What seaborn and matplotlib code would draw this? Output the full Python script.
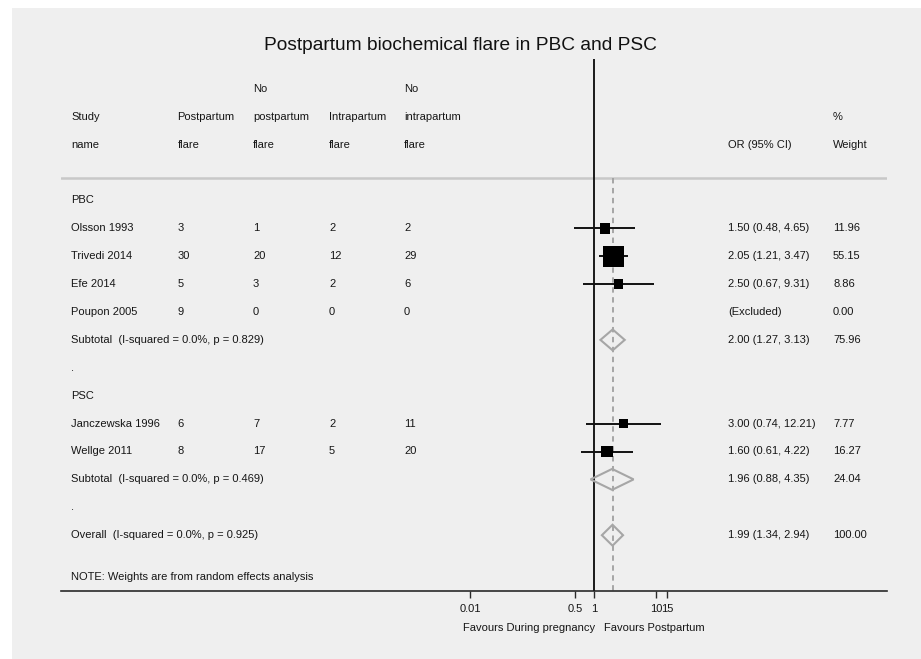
import numpy as np
import pandas as pd
import matplotlib
matplotlib.use("Agg")
import matplotlib.pyplot as plt
import matplotlib.transforms as mtransforms
from matplotlib.patches import Rectangle, Polygon
from matplotlib.ticker import FixedLocator, NullLocator, FixedFormatter
import seaborn as sns

# ---------------- data ----------------
studies = ["Olsson 1993", "Trivedi 2014", "Efe 2014", "Poupon 2005",
           "Janczewska 1996", "Wellge 2011"]
groups = ["PBC", "PBC", "PBC", "PBC", "PSC", "PSC"]
postpartum_flare = [3, 30, 5, 9, 6, 8]
no_postpartum_flare = [1, 20, 3, 0, 7, 17]
intrapartum_flare = [2, 12, 2, 0, 2, 5]
no_intrapartum_flare = [2, 29, 6, 0, 11, 20]
odds_ratio = [1.50, 2.05, 2.50, np.nan, 3.00, 1.60]
ci_low = [0.48, 1.21, 0.67, np.nan, 0.74, 0.61]
ci_high = [4.65, 3.47, 9.31, np.nan, 12.21, 4.22]
or_text = ["1.50 (0.48, 4.65)", "2.05 (1.21, 3.47)", "2.50 (0.67, 9.31)",
           "(Excluded)", "3.00 (0.74, 12.21)", "1.60 (0.61, 4.22)"]
weights = [11.96, 55.15, 8.86, 0.00, 7.77, 16.27]

pooled_labels = ["Subtotal  (I-squared = 0.0%, p = 0.829)",
                 "Subtotal  (I-squared = 0.0%, p = 0.469)",
                 "Overall  (I-squared = 0.0%, p = 0.925)"]
pooled_or = [2.00, 1.96, 1.99]
pooled_low = [1.27, 0.88, 1.34]
pooled_high = [3.13, 4.35, 2.94]
pooled_text = ["2.00 (1.27, 3.13)", "1.96 (0.88, 4.35)", "1.99 (1.34, 2.94)"]
pooled_weight = ["75.96", "24.04", "100.00"]

tick_values = [0.01, 0.5, 1, 10, 15]
tick_labels = ["0.01", "0.5", "1", "10", "15"]

title = "Postpartum biochemical flare in PBC and PSC"

# ---------------- layout rows ----------------
study_rows = [1, 2, 3, 4, 8, 9]
pooled_rows = [5, 10, 12]
group_rows = {"PBC": 0, "PSC": 7}
dot_rows = [6, 11]

W, H = 921, 659
sns.set_theme(style="white")
plt.rcParams["font.family"] = ["Liberation Sans", "DejaVu Sans"]
TXT = "#161616"
FS = 8.0

fig = plt.figure(figsize=(W / 100, H / 100), dpi=100)
fig.patch.set_facecolor("white")
fig.patches.append(Rectangle((12 / W, 0), 1 - 12 / W, 1 - 8 / H,
                             transform=fig.transFigure, facecolor="#efefef",
                             edgecolor="none", zorder=-10))

# axes: pixel 61..887 horizontally, 59..591 vertically
x_left, x_right, y_top, y_bot = 61, 887, 59, 591
ax = fig.add_axes([x_left / W, 1 - y_bot / H, (x_right - x_left) / W,
                   (y_bot - y_top) / H])
ax.set_facecolor("none")
row0, rowstep = 200.4, 27.9
px_per_dec, x_one = 62.0, 594.0
ax.set_xscale("log")
ax.set_xlim(10 ** ((x_left - x_one) / px_per_dec), 10 ** ((x_right - x_one) / px_per_dec))
ax.set_ylim((y_bot - row0) / rowstep, (y_top - row0) / rowstep)

for s in ["left", "right", "top"]:
    ax.spines[s].set_visible(False)
ax.spines["bottom"].set_color("#2a2a2a")
ax.spines["bottom"].set_linewidth(1.2)
ax.xaxis.set_major_locator(FixedLocator(tick_values))
ax.xaxis.set_major_formatter(FixedFormatter(tick_labels))
ax.xaxis.set_minor_locator(NullLocator())
ax.tick_params(axis="x", bottom=True, length=5, width=1.0, color="#2a2a2a",
               labelsize=FS, labelcolor=TXT, pad=4.5)
ax.set_yticks([])
ax.set_xlabel("")
ax.set_ylabel("")

# reference lines
ax.axvline(1, color="#1a1a1a", lw=1.4, zorder=3)
ax.axhline(-0.8, color="#c8c8c8", lw=1.8, zorder=1)
ax.plot([pooled_or[2], pooled_or[2]], [-0.8, ax.get_ylim()[0]], color="#a0a0a0",
        lw=1.3, ls=(0, (3, 2.5)), zorder=1)

# study estimates
df = pd.DataFrame({"study": studies, "group": groups, "or": odds_ratio,
                   "lo": ci_low, "hi": ci_high, "w": weights, "row": study_rows})
shown = df.dropna(subset=["or"])
ax.hlines(shown["row"], shown["lo"], shown["hi"], color="#111111", lw=1.4, zorder=4)
side_pt = (2.6 * np.sqrt(shown["w"].values) + 1.5) * 0.72
sns.scatterplot(data=shown, x="or", y="row", marker="s", color="black",
                s=side_pt ** 2, linewidth=0, legend=False, ax=ax, zorder=5)
ax.set_xlabel("")
ax.set_ylabel("")

# pooled diamonds
half_h = 0.375
for r, est, lo, hi in zip(pooled_rows, pooled_or, pooled_low, pooled_high):
    poly = Polygon([(lo, r), (est, r - half_h), (hi, r), (est, r + half_h)],
                   closed=True, facecolor="none", edgecolor="#a6a6a6", lw=1.5,
                   zorder=4)
    ax.add_patch(poly)

# ---------------- text columns ----------------
tr = mtransforms.blended_transform_factory(fig.transFigure, ax.transData)
col_study, col_pp, col_npp, col_ip, col_nip = 71, 177.5, 253, 329, 404
col_or, col_w = 728, 833


def put(xpx, row, s, **kw):
    ax.text(xpx / W, row, s, transform=tr, ha="left", va="center",
            fontsize=FS, color=TXT, clip_on=False, **kw)


# headers
put(col_npp, -4, "No")
put(col_nip, -4, "No")
put(col_study, -3, "Study")
put(col_pp, -3, "Postpartum")
put(col_npp, -3, "postpartum")
put(col_ip, -3, "Intrapartum")
put(col_nip, -3, "intrapartum")
put(col_w, -3, "%")
put(col_study, -2, "name")
put(col_pp, -2, "flare")
put(col_npp, -2, "flare")
put(col_ip, -2, "flare")
put(col_nip, -2, "flare")
put(col_or, -2, "OR (95% CI)")
put(col_w, -2, "Weight")

for g, r in group_rows.items():
    put(col_study, r, g)
for r in dot_rows:
    put(col_study, r, ".")

for i, r in enumerate(study_rows):
    put(col_study, r, studies[i])
    put(col_pp, r, str(postpartum_flare[i]))
    put(col_npp, r, str(no_postpartum_flare[i]))
    put(col_ip, r, str(intrapartum_flare[i]))
    put(col_nip, r, str(no_intrapartum_flare[i]))
    put(col_or, r, or_text[i])
    put(col_w, r, f"{weights[i]:.2f}")

for i, r in enumerate(pooled_rows):
    put(col_study, r, pooled_labels[i])
    put(col_or, r, pooled_text[i])
    put(col_w, r, pooled_weight[i])

put(col_study, 13.5, "NOTE: Weights are from random effects analysis")

# title and favours labels
fig.text(460.5 / W, 1 - 45 / H, title, ha="center", va="center",
         fontsize=13.8, color="#111111")
fig.text(595 / W, 1 - 628 / H, "Favours During pregnancy", ha="right",
         va="center", fontsize=FS, color=TXT)
fig.text(604 / W, 1 - 628 / H, "Favours Postpartum", ha="left",
         va="center", fontsize=FS, color=TXT)

fig.savefig("out.png", dpi=100, facecolor=fig.get_facecolor())
